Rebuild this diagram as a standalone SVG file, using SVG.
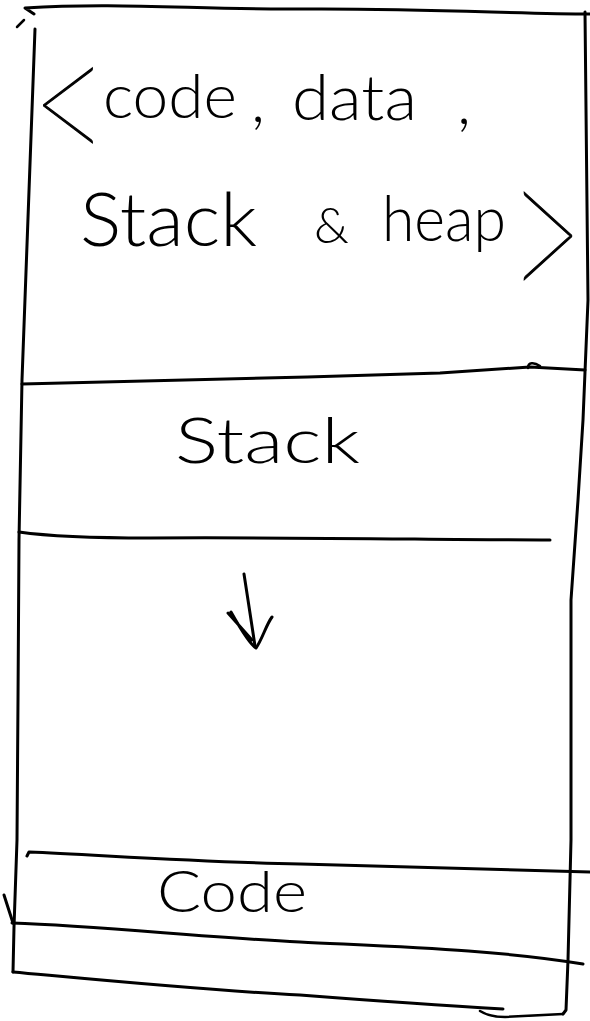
<svg xmlns="http://www.w3.org/2000/svg" width="590" height="1021" viewBox="0 0 590 1021">
<style>
.ink{fill:none;stroke:#000;stroke-width:3;stroke-linecap:round;stroke-linejoin:round}
.thin{stroke-width:2.5}
.hw{font-family:Lato,"Liberation Sans","DejaVu Sans",sans-serif;font-weight:300;fill:#000}
.br{font-weight:100;stroke:#000;stroke-width:1.2}
</style>
<rect width="590" height="1021" fill="#fff"/>
<g id="frame">
<path class="ink" d="M34,14 L25,8 C120,2 200,10 300,9 C420,8 520,14 590,14"/>
<path class="ink thin" d="M17,27 L24,20"/>
<path class="ink" d="M35,29 L22,380 L19,540 L18,700 L17,840 L14,927 L13,972"/>
<path class="ink" d="M585,12 L588,300 L583,420 L578,500 L571,600 L571,840 L568,960 L566,1010 L563,1014"/>
<path class="ink" d="M13,972 C100,980 200,990 300,995 C390,1002 450,1006 503,1009"/>
<path class="ink thin" d="M480,1011 C488,1016 495,1017 505,1017 L563,1014"/>
</g>
<g id="address-space">
<text class="hw"><tspan class="br" x="31" y="172" font-size="198" textLength="78" lengthAdjust="spacingAndGlyphs">&lt;</tspan><tspan x="103" y="118" font-size="62" textLength="134" lengthAdjust="spacingAndGlyphs">code</tspan><tspan x="251" y="122" font-size="64">,</tspan><tspan x="292" y="120" font-size="64" textLength="125" lengthAdjust="spacingAndGlyphs">data</tspan><tspan x="457" y="124" font-size="64">,</tspan><tspan x="80" y="246" font-size="74" textLength="177" lengthAdjust="spacingAndGlyphs">Stack</tspan><tspan x="314" y="243" font-size="50">&amp;</tspan><tspan x="382" y="241" font-size="64" textLength="124" lengthAdjust="spacingAndGlyphs">heap</tspan><tspan class="br" x="508" y="314" font-size="232" textLength="76" lengthAdjust="spacingAndGlyphs">&gt;</tspan></text>
</g>
<g id="stack-section">
<path class="ink" d="M22,384 C150,380 300,378 440,373 L530,367 L585,370"/>
<path class="ink thin" d="M528,368 C528,362 534,362 540,366"/>
<text class="hw" x="175" y="463" font-size="64" textLength="185" lengthAdjust="spacingAndGlyphs">Stack</text>
<path class="ink" d="M19,532 C40,535 80,538 150,538 C300,537 450,540 550,540"/>
</g>
<g id="code-section">
<path class="ink" d="M27,856 L29,852 C100,855 200,862 300,864 C400,866 500,869 590,872"/>
<text class="hw" x="157" y="912" font-size="58" textLength="150" lengthAdjust="spacingAndGlyphs">Code</text>
<path class="ink" d="M12,923 C100,926 200,937 300,942 C400,947 500,950 583,964"/>
<path class="ink" d="M4,895 L13,923"/>
</g>
<g id="connectors">
<path class="ink" stroke-width="4" d="M244,574 L248,600 L255,646"/>
<path class="ink" d="M228,613 L252,640 M231,612 C240,628 250,644 256,648 C262,640 266,625 272,617"/>
</g>
</svg>
